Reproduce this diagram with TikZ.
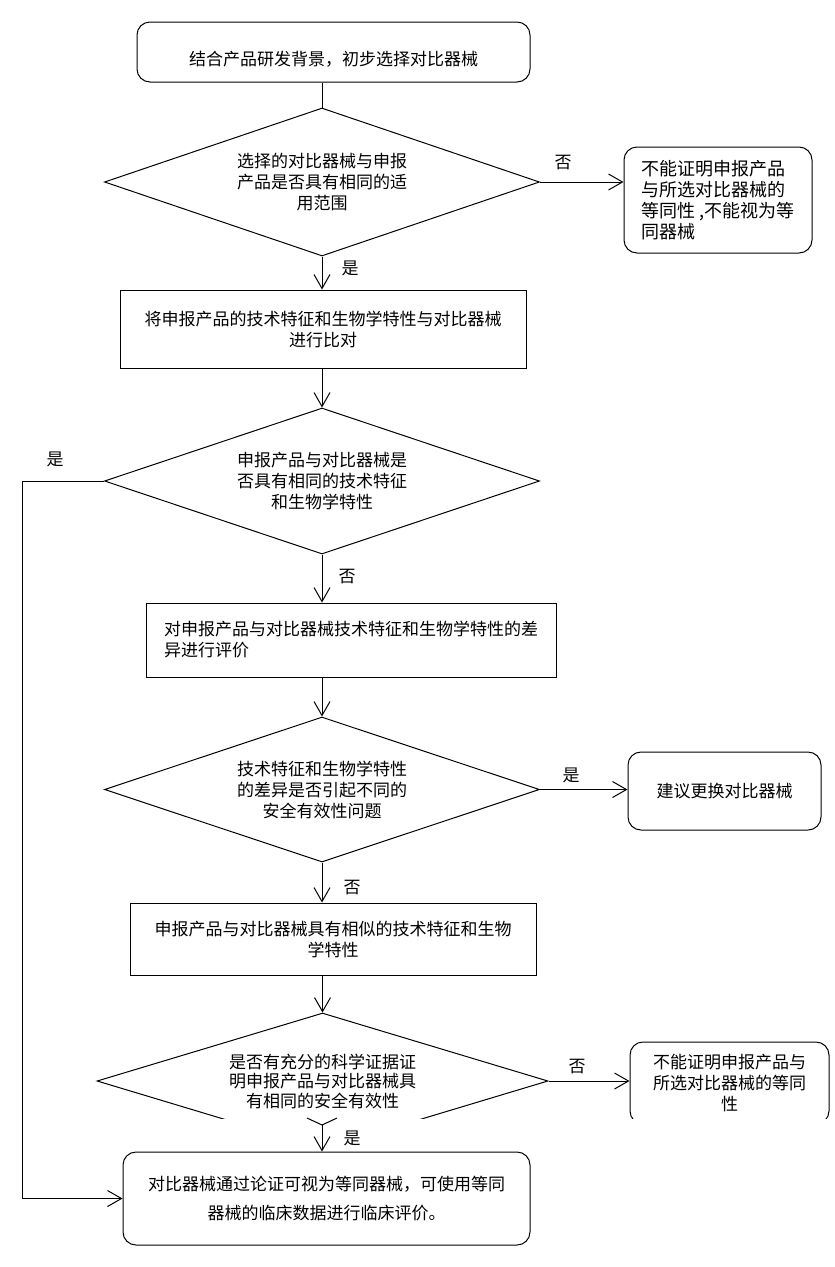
\documentclass[tikz,border=0pt]{standalone}
\usepackage{fontspec}
\setmainfont{Noto Sans CJK SC}
\usetikzlibrary{shapes.geometric,arrows.meta}
\begin{document}
\begin{tikzpicture}[x=1pt,y=-1pt,line width=1pt,
	font=\fontsize{17}{21}\selectfont,
	box/.style={draw,rectangle,inner sep=0pt},
	rbox/.style={draw,rectangle,rounded corners=13pt,inner sep=0pt},
	dec/.style={draw,diamond,aspect=2.9,inner sep=0pt,align=center},
	arr/.style={-{Straight Barb[length=14pt,width=16pt]}}]
\useasboundingbox (0,0) rectangle (835,1267);
\node (start) [rbox,minimum width=393pt,minimum height=60pt] at (333.5,52)
	{\raisebox{-7pt}[\height][\depth]{结合产品研发背景，初步选择对比器械}};
\node (d1) [dec,minimum width=435pt,minimum height=148pt] at (322,182)
	{选择的对比器械与申报\\产品是否具有相同的适\\用范围};
\node (no1) [rbox,minimum width=188pt,minimum height=106pt,align=left,
	font=\fontsize{18}{21}\selectfont] at (718,200)
	{不能证明申报产品\\与所选对比器械的\\等同性 ,不能视为等\\同器械};
\node (cmp) [box,minimum width=406pt,minimum height=78pt,align=center] at (323,329)
	{将申报产品的技术特征和生物学特性与对比器械\\进行比对};
\node (d2) [dec,minimum width=435pt,minimum height=146pt] at (322,481)
	{申报产品与对比器械是\\否具有相同的技术特征\\和生物学特性};
\node (diff) [box,minimum width=410pt,minimum height=74pt,align=left] at (351,640)
	{对申报产品与对比器械技术特征和生物学特性的差\\异进行评价};
\node (d3) [dec,minimum width=435pt,minimum height=145pt] at (322,789.5)
	{技术特征和生物学特性\\的差异是否引起不同的\\安全有效性问题};
\node (chg) [rbox,minimum width=193pt,minimum height=78pt] at (724.5,791)
	{建议更换对比器械};
\node (sim) [box,minimum width=406pt,minimum height=72pt,align=center] at (333,939)
	{申报产品与对比器械具有相似的技术特征和生物\\学特性};
% lower part of this row is cut off
\begin{scope}
\clip (0,0) rectangle (835,1118);
\node (d4) [dec,minimum width=451pt,minimum height=136pt,
	font=\fontsize{17}{19.5}\selectfont] at (322.5,1081)
	{是否有充分的科学证据证\\明申报产品与对比器械具\\有相同的安全有效性};
\node (no2) [rbox,minimum width=199pt,minimum height=82pt,align=center] at (729.5,1083)
	{不能证明申报产品与\\所选对比器械的等同\\性};
\end{scope}
\node (fin) [rbox,minimum width=407pt,minimum height=93pt,align=center,
	font=\fontsize{17}{29}\selectfont] at (326.5,1198.5)
	{对比器械通过论证可视为等同器械，可使用等同\\器械的临床数据进行临床评价。};
% labels
\node (n1) at (563,163) {否};
\node (y1) at (350,268) {是};
\node (y2) at (55,459) {是};
\node (n2) at (347,577) {否};
\node (y3) at (571,775) {是};
\node (n3) at (352,888) {否};
\node (n4) at (577,1067) {否};
\node (y4) at (352,1138) {是};
% connectors
\draw (start.south -| d1.north) -- (d1.north);
\draw [arr] (d1.east) -- (d1.east -| no1.west);
\draw [arr] (d1.south) -- (d1.south |- cmp.north);
\draw [arr] (cmp.south -| d2.north) -- (d2.north);
\coordinate (lft) at (22,481);
\draw [arr] (d2.west) -- (lft) |- (fin.west);
\draw [arr] (d2.south) -- (d2.south |- diff.north);
\draw [arr] (diff.south -| d3.north) -- (d3.north);
\draw [arr] (d3.east) -- (d3.east -| chg.west);
\draw [arr] (d3.south) -- (d3.south |- sim.north);
\draw [arr] (sim.south -| d4.north) -- (d4.north);
\draw [arr] (d4.east) -- (d4.east -| no2.west);
\coordinate (tip) at (322,1125);
\draw (307,1118) -- (tip) -- (337,1118);
\draw [arr] (tip) -- (tip |- fin.north);
\end{tikzpicture}
\end{document}
